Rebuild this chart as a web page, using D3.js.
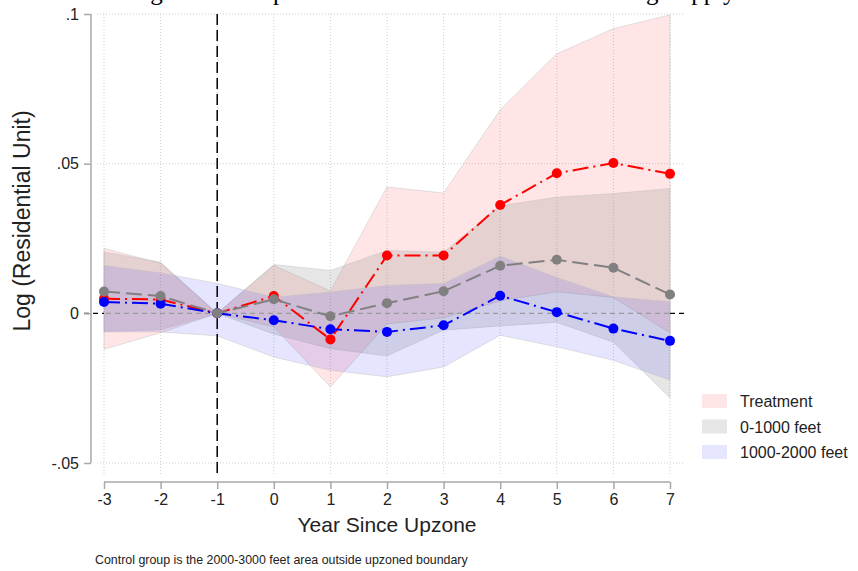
<!DOCTYPE html>
<html>
<head>
<meta charset="utf-8">
<script src="https://cdn.jsdelivr.net/npm/d3@7"></script>
<style>
  body { margin: 0; background: #fff; }
  svg { display: block; }
</style>
</head>
<body>
<script>
// Event-study estimates by year relative to upzoning
const years = [-3, -2, -1, 0, 1, 2, 3, 4, 5, 6, 7];

const treatment   = [0.0049, 0.0046, 0, 0.0058, -0.0087, 0.0193, 0.0193, 0.0362, 0.0468, 0.0502, 0.0466];
const treatmentLo = [-0.0120, -0.0065, 0, -0.0045, -0.0246, -0.0035, -0.0015, 0.0042, 0.0072, 0.0053, -0.0065];
const treatmentHi = [0.0217, 0.0167, 0, 0.0160, 0.0075, 0.0422, 0.0402, 0.0680, 0.0867, 0.0951, 0.0997];

const near   = [0.0073, 0.0058, 0, 0.0047, -0.0010, 0.0034, 0.0074, 0.0159, 0.0179, 0.0152, 0.0063];
const nearLo = [-0.0060, -0.0055, 0, -0.0069, -0.0118, -0.0142, -0.0056, -0.0042, -0.0030, -0.0096, -0.0283];
const nearHi = [0.0205, 0.0171, 0, 0.0163, 0.0143, 0.0210, 0.0204, 0.0360, 0.0388, 0.0400, 0.0417];

const mid   = [0.0038, 0.0032, 0, -0.0023, -0.0053, -0.0062, -0.0040, 0.0059, 0.0004, -0.0051, -0.0092];
const midLo = [-0.0062, -0.0062, -0.0075, -0.0146, -0.0190, -0.0212, -0.0179, -0.0073, -0.0112, -0.0157, -0.0223];
const midHi = [0.0160, 0.0135, 0.0100, 0.0054, 0.0071, 0.0093, 0.0100, 0.0191, 0.0120, 0.0055, 0.0039];

const yTicks = [-0.05, 0, 0.05, 0.1];
const yTickLabels = ["-.05", "0", ".05", ".1"];
const xTickLabels = ["-3", "-2", "-1", "0", "1", "2", "3", "4", "5", "6", "7"];
const legendLabels = ["Treatment", "0-1000 feet", "1000-2000 feet"];

const W = 858, H = 571;
const sans = "'Liberation Sans', Arial, Helvetica, sans-serif";

const svg = d3.select("body").append("svg")
  .attr("width", W).attr("height", H)
  .attr("font-family", sans);

const x = d3.scaleLinear().domain([-3, 7]).range([104, 670]);
const y = d3.scaleLinear().domain([-0.05, 0.1]).range([463, 14]);

// Title (sits mostly above the frame)
svg.append("text")
  .attr("x", 429).attr("y", 0)
  .attr("text-anchor", "middle")
  .attr("font-family", "'Liberation Serif', 'Times New Roman', serif")
  .attr("font-size", 25)
  .attr("fill", "#000")
  .text("Log Units in Upzone Areas: Effects on Total Housing Supply");

// Grid
const grid = svg.append("g").attr("stroke", "#cfcfcf").attr("stroke-width", 1)
  .attr("stroke-dasharray", "1 2");
yTicks.filter(v => v !== 0).forEach(v => {
  grid.append("line").attr("x1", 97).attr("x2", 683)
    .attr("y1", y(v)).attr("y2", y(v));
});
years.forEach(v => {
  grid.append("line").attr("x1", x(v)).attr("x2", x(v))
    .attr("y1", 14).attr("y2", 474);
});

// Confidence bands
const bands = [
  { lo: treatmentLo, hi: treatmentHi, fill: "rgba(255,0,0,0.10)" },
  { lo: nearLo, hi: nearHi, fill: "rgba(128,128,128,0.20)" },
  { lo: midLo, hi: midHi, fill: "rgba(0,0,255,0.10)" }
];
const area = d3.area()
  .x((d, i) => x(years[i]))
  .y0(d => y(d[0]))
  .y1(d => y(d[1]));
bands.forEach(b => {
  svg.append("path")
    .datum(b.lo.map((v, i) => [v, b.hi[i]]))
    .attr("d", area)
    .attr("fill", b.fill)
    .attr("stroke", "rgba(190,190,190,0.45)")
    .attr("stroke-width", 1);
});

// Zero reference line: black outside the bands, muted where they cover it
const zeroDash = "5 4";
[[84, x(-3)], [x(7), 684]].forEach(([a, b]) => {
  svg.append("line").attr("x1", a).attr("x2", b)
    .attr("y1", y(0)).attr("y2", y(0))
    .attr("stroke", "#000").attr("stroke-width", 1.3).attr("stroke-dasharray", zeroDash);
});
svg.append("line").attr("x1", x(-3)).attr("x2", x(7))
  .attr("y1", y(0)).attr("y2", y(0))
  .attr("stroke", "#9a9a9a").attr("stroke-width", 1.3).attr("stroke-dasharray", zeroDash)
  .attr("stroke-dashoffset", -((x(-3) - 84) % 9));

// Reference year line
svg.append("line").attr("x1", x(-1)).attr("x2", x(-1))
  .attr("y1", 14).attr("y2", 478)
  .attr("stroke", "#000").attr("stroke-width", 1.5).attr("stroke-dasharray", "11 5");

// Series lines and markers
const line = d3.line().x((d, i) => x(years[i])).y(d => y(d));
const series = [
  { vals: treatment, color: "#ff0000", dash: "16 5 2 5" },
  { vals: mid, color: "#0000ff", dash: "16 5 2 5" },
  { vals: near, color: "#808080", dash: "16 6" }
];
series.forEach(s => {
  svg.append("path").datum(s.vals).attr("d", line)
    .attr("fill", "none").attr("stroke", s.color)
    .attr("stroke-width", 2).attr("stroke-dasharray", s.dash);
  svg.append("g").selectAll("circle").data(s.vals).join("circle")
    .attr("cx", (d, i) => x(years[i])).attr("cy", d => y(d))
    .attr("r", 5).attr("fill", s.color);
});

// Y axis
const yAxis = svg.append("g").attr("transform", "translate(91,0)")
  .call(d3.axisLeft(y).tickValues(yTicks).tickSize(7)
    .tickFormat((d, i) => yTickLabels[i]));
yAxis.select(".domain").attr("stroke", "#a8a8a8").attr("stroke-width", 1.5)
  .attr("d", `M0,${y(0.1)}V${y(-0.05)}`);
yAxis.selectAll(".tick line").attr("stroke", "#a8a8a8").attr("stroke-width", 1.5);
yAxis.selectAll(".tick text").attr("font-size", 16).attr("font-family", sans)
  .attr("fill", "#222").attr("x", -12);

// X axis
const xAxis = svg.append("g").attr("transform", "translate(0,482)")
  .call(d3.axisBottom(x).tickValues(years).tickSize(7)
    .tickFormat((d, i) => xTickLabels[i]));
xAxis.select(".domain").attr("stroke", "#a8a8a8").attr("stroke-width", 1.5)
  .attr("d", `M${x(-3)},0H${x(7)}`);
xAxis.selectAll(".tick line").attr("stroke", "#a8a8a8").attr("stroke-width", 1.5);
xAxis.selectAll(".tick text").attr("font-size", 16).attr("font-family", sans)
  .attr("fill", "#222").attr("y", 12);

// Axis titles
svg.append("text")
  .attr("transform", "translate(30,221) rotate(-90)")
  .attr("text-anchor", "middle").attr("font-size", 23).attr("fill", "#222")
  .text("Log (Residential Unit)");
svg.append("text")
  .attr("x", 387).attr("y", 532)
  .attr("text-anchor", "middle").attr("font-size", 21).attr("fill", "#222")
  .text("Year Since Upzone");

// Note
svg.append("text")
  .attr("x", 95).attr("y", 564)
  .attr("font-size", 12.4).attr("fill", "#222")
  .text("Control group is the 2000-3000 feet area outside upzoned boundary");

// Legend
const swatches = ["rgb(255,230,230)", "rgb(230,230,230)", "rgb(230,230,255)"];
const legend = svg.append("g");
legendLabels.forEach((lab, i) => {
  const cy = 401 + i * 25.5;
  legend.append("rect").attr("x", 702).attr("y", cy - 7)
    .attr("width", 25).attr("height", 14).attr("fill", swatches[i]);
  legend.append("text").attr("x", 740).attr("y", cy + 6)
    .attr("font-size", 16).attr("fill", "#222").text(lab);
});
</script>
</body>
</html>
